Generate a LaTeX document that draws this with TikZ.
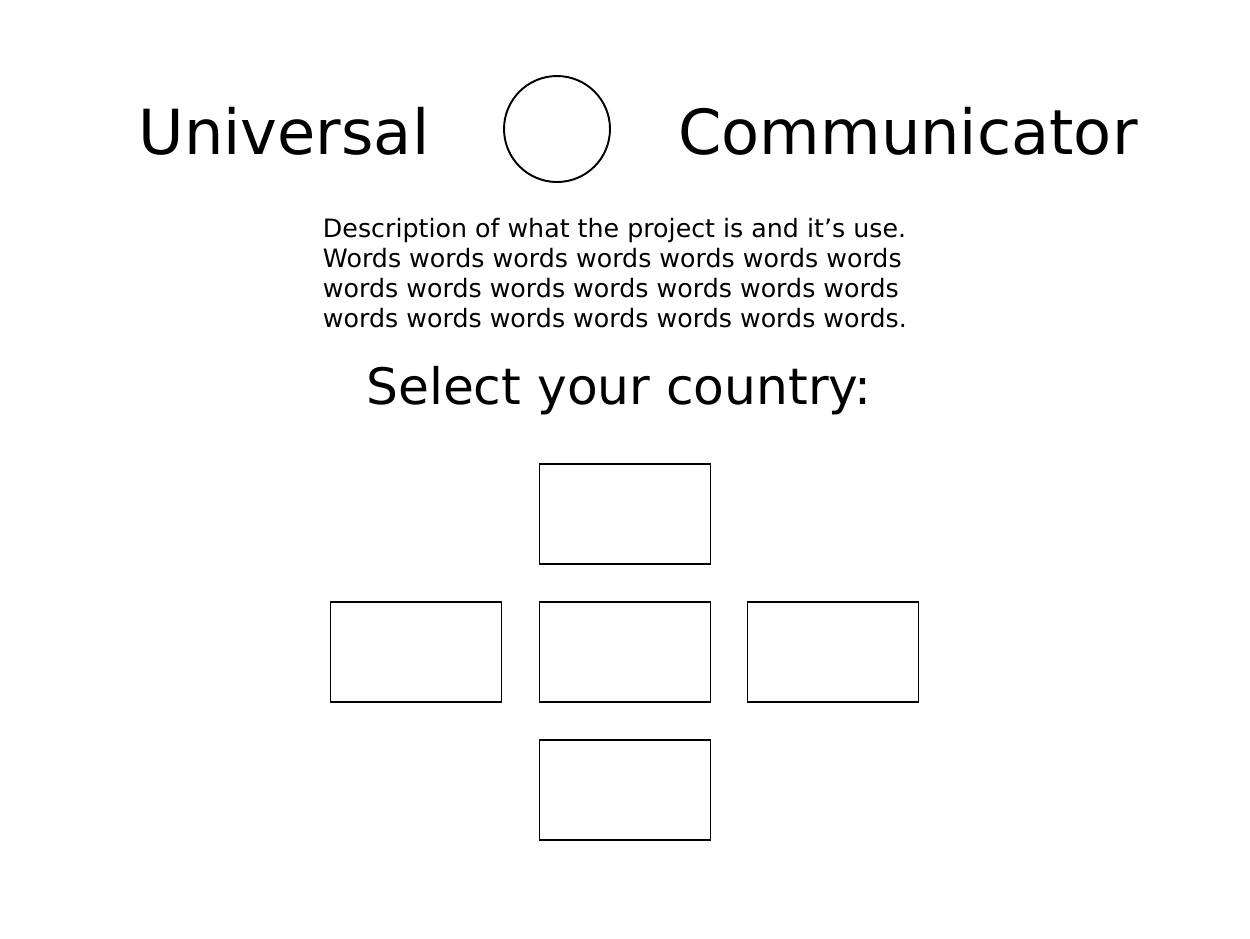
\documentclass[tikz,border=0pt]{standalone}
\usepackage{fontspec}
\setmainfont{DejaVu Sans}

\begin{document}
\begin{tikzpicture}[x=0.02cm,y=-0.02cm,line width=1.1pt,
	countrybox/.style={draw,minimum width=3.42cm,minimum height=2cm,inner sep=0pt}]
	\useasboundingbox (0,0) rectangle (1250,938);
	% title
	\node[anchor=base,inner sep=0pt,font=\fontsize{35.4}{42}\selectfont] (universal) at (284,154) {Universal};
	\node[draw,circle,minimum size=2.12cm,inner sep=0pt] (logo) at (557,129) {};
	\node[anchor=base,inner sep=0pt,font=\fontsize{35.4}{42}\selectfont] (communicator) at (908,154) {Communicator};
	% description
	\node[anchor=base west,inner sep=0pt,align=left,font=\fontsize{14.4}{17}\selectfont] (descr) at (322,327) {Description of what the project is and it’s use.\\
		Words words words words words words words\\
		words words words words words words words\\
		words words words words words words words.};
	\node[anchor=base,inner sep=0pt,font=\fontsize{28.6}{34}\selectfont] (select) at (619,404) {Select your country:};
	% country buttons
	\foreach \name/\x/\y in {north/625/514,west/416/652,middle/625/652,east/833/652,south/625/790}{
		\node[countrybox] (\name) at (\x,\y) {};
	}
\end{tikzpicture}
\end{document}
